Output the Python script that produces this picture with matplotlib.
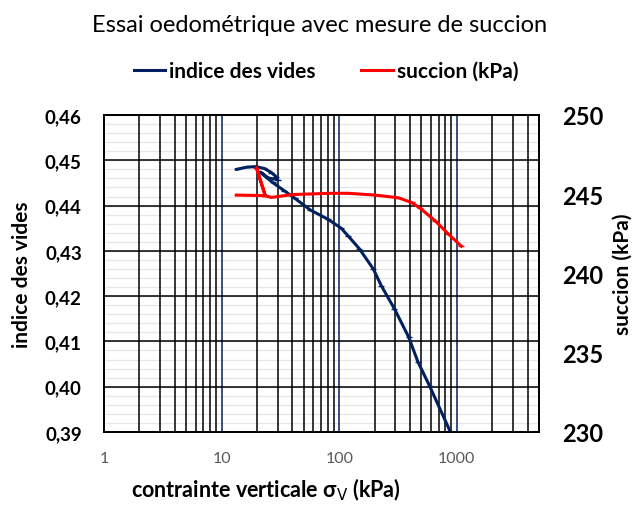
#!/usr/bin/env python
import numpy as np
import matplotlib
matplotlib.use("Agg")
import matplotlib.pyplot as plt
from matplotlib.ticker import FixedLocator, NullFormatter, FuncFormatter

plt.rcParams['font.family'] = ['Lato', 'DejaVu Sans']

# indice des vides (left axis) vs contrainte verticale (kPa)
sig_e = [13.4, 16.5, 19.5, 23, 26.5, 29, 30, 25, 21.3, 27.1, 34, 42, 57, 80, 104,
         119, 148, 195, 228, 295, 389, 467, 586, 872, 950]
e_vals = [0.4480, 0.4485, 0.4486, 0.4482, 0.4473, 0.4464, 0.4457, 0.4461, 0.4474,
          0.4451, 0.4433, 0.4416, 0.4390, 0.4370, 0.4350, 0.4333, 0.4305, 0.4260,
          0.4223, 0.4172, 0.4110, 0.4055, 0.4002, 0.3903, 0.3876]

# succion (kPa) (right axis)
sig_s = [13.4, 23.5, 19.8, 23.5, 26.5, 40, 57, 85, 119, 200, 318, 412, 486, 653, 849, 1095]
suction = [244.95, 244.91, 246.66, 244.91, 244.80, 244.98, 245.02, 245.06, 245.06,
           244.95, 244.78, 244.48, 244.13, 243.33, 242.49, 241.72]

e_ticks = [0.39, 0.40, 0.41, 0.42, 0.43, 0.44, 0.45, 0.46]
s_ticks = [230, 235, 240, 245, 250]
x_ticks = [1, 10, 100, 1000]

navy = "#002060"
red = "#FF0000"

fig = plt.figure(figsize=(6.39, 5.06), dpi=100)
ax = fig.add_axes([104/639, 1-433/506, 435/639, 317/506])
ax2 = ax.twinx()

ax.set_xscale("log")
ax.set_xlim(1, 5000)
ax.set_ylim(0.39, 0.46)
ax2.set_ylim(230, 250)

# grid
ax.xaxis.set_major_locator(FixedLocator(x_ticks))
minors = [m * 10**d for d in range(0, 4) for m in range(2, 10) if m * 10**d < 5000]
ax.xaxis.set_minor_locator(FixedLocator(minors))
ax.xaxis.set_minor_formatter(NullFormatter())
ax.xaxis.set_major_formatter(FuncFormatter(lambda v, p: f"{v:g}"))
ax.set_yticks(e_ticks)
ax.set_yticks(np.arange(0.39, 0.4601, 0.002), minor=True)
ax.yaxis.set_major_formatter(FuncFormatter(lambda v, p: f"{v:.2f}".replace(".", ",")))

for x in minors:
    ax.axvline(x, color="black", lw=1.1, zorder=1)
for x in x_ticks[1:]:
    ax.axvline(x, color=navy, lw=1.1, zorder=1)
for y in np.arange(0.39, 0.4601, 0.002):
    ax.axhline(y, color="#e6e6e6", lw=0.9, zorder=0.5)
for y in e_ticks:
    ax.axhline(y, color="black", lw=1.1, zorder=1)

ax.tick_params(which="both", length=0)
ax.tick_params(axis="x", pad=14, labelsize=11.5, labelcolor="#595959")
ax.tick_params(axis="y", pad=16, labelsize=13.5)
for lab in ax.get_yticklabels():
    lab.set_fontweight("bold")

ax2.set_yticks(s_ticks)
ax2.tick_params(length=0, pad=17, labelsize=17)
for lab in ax2.get_yticklabels():
    lab.set_fontweight("bold")

for a in (ax, ax2):
    for sp in a.spines.values():
        sp.set_linewidth(1.3)
        sp.set_color("black")

l1, = ax.plot(sig_e, e_vals, color=navy, lw=2.2, marker="_", ms=4, zorder=3,
              label="indice des vides")
l2, = ax2.plot(sig_s, suction, color=red, lw=2.2, marker="_", ms=4, zorder=3,
               label="succion (kPa)")

ax.set_xlabel("contrainte verticale σ$_\\mathrm{V}$ (kPa)", fontsize=15.5,
              fontweight="bold")
ax.xaxis.set_label_coords((266 - 104) / 435, -(477 - 433) / 317)
ax.set_ylabel("indice des vides", fontsize=15, fontweight="bold")
ax.yaxis.set_label_coords(-(104 - 32) / 435, 0.5)
ax2.set_ylabel("succion (kPa)", fontsize=15, fontweight="bold", labelpad=6)

fig.text(0.5, 1-25/506, "Essai oedométrique avec mesure de succion", ha="center",
         va="center", fontsize=17)
fig.legend(handles=[l1, l2], loc="center", bbox_to_anchor=(0.51, 1-72/506), ncol=2,
           frameon=False, prop={"weight": "bold", "size": 15}, handlelength=1.5,
           handletextpad=0.2, columnspacing=2.2)

fig.savefig("out.png", dpi=100)
